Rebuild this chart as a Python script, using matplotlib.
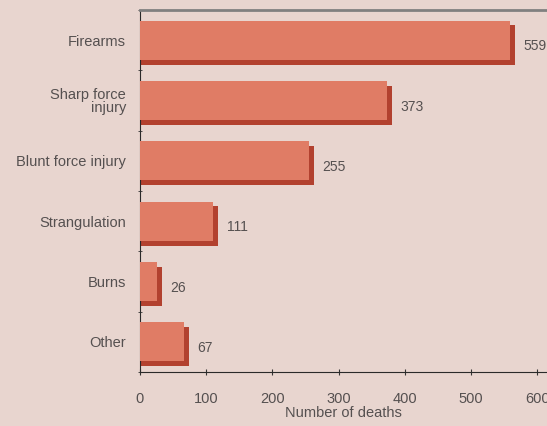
import matplotlib
matplotlib.use("Agg")
from matplotlib import pyplot as plt

categories = ["Firearms", "Sharp force\ninjury", "Blunt force injury", "Strangulation", "Burns", "Other"]
deaths = [559, 373, 255, 111, 26, 67]
x_ticks = [0, 100, 200, 300, 400, 500, 600]

bg = "#e8d5cf"
face = "#e07c65"
shade = "#b2412f"
text_col = "#555050"

plt.rcParams['font.family'] = ['Liberation Sans Narrow', 'Liberation Sans', 'DejaVu Sans']

fig = plt.figure(figsize=(5.47, 4.26), dpi=100, facecolor=bg)
ax = fig.add_axes([140 / 547, 1 - 372 / 426, 1 - 140 / 547, (372 - 10) / 426])
ax.set_facecolor(bg)

ypos = list(range(len(categories)))
bar_h = 0.65

# darker "3D" shadow, then the bar face on top
ax.barh([y + 0.08 for y in ypos], [v + 7.5 for v in deaths], height=bar_h, color=shade, zorder=2)
ax.barh(ypos, deaths, height=bar_h, color=face, zorder=3)

for y, v in zip(ypos, deaths):
    ax.annotate(str(v), (v + 7.5, y + 0.1), xytext=(6, 0), textcoords="offset points",
                va="center", ha="left", fontsize=10, color=text_col, annotation_clip=False)

ax.set_xlim(0, 615)
ax.set_ylim(5.5, -0.5)
ax.set_xticks(x_ticks)
ax.set_xticklabels([str(t) for t in x_ticks], fontsize=10.5, color=text_col)
ax.set_yticks(ypos)
ax.set_yticklabels(categories, fontsize=10.5, color=text_col, linespacing=0.9)
ax.tick_params(axis="y", length=0, pad=10)
ax.set_yticks([i - 0.5 for i in range(len(categories) + 1)], minor=True)
ax.tick_params(axis="y", which="minor", length=3, direction="inout", color="#333333")
ax.tick_params(axis="x", length=5, direction="inout", color="#333333", pad=12)
ax.set_xlabel("Number of deaths", fontsize=10.5, color=text_col, labelpad=0)

ax.spines["right"].set_visible(False)
ax.spines["top"].set_color("#808080")
ax.spines["top"].set_linewidth(2)
ax.spines["left"].set_color("#2a2a2a")
ax.spines["bottom"].set_color("#2a2a2a")

fig.savefig("out.png", dpi=100, facecolor=bg)
